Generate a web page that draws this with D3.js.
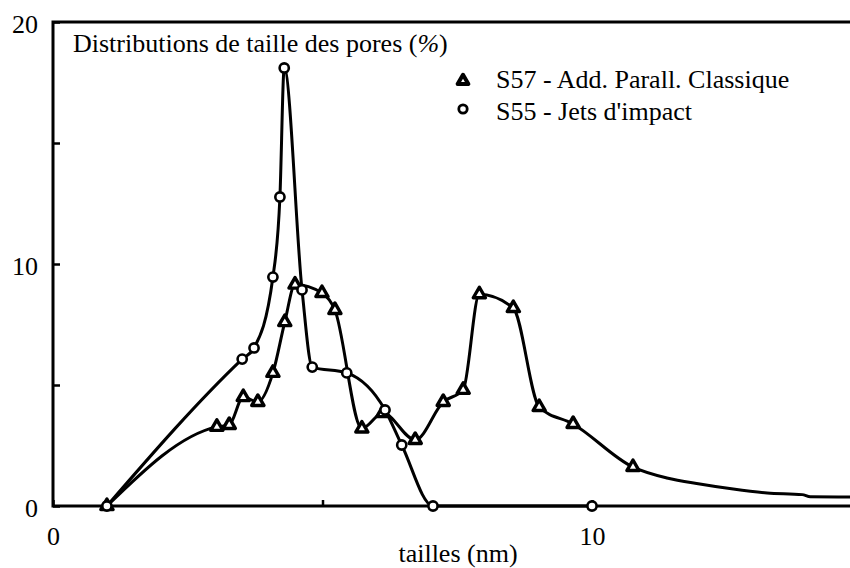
<!DOCTYPE html>
<html>
<head>
<meta charset="utf-8">
<script src="https://cdn.jsdelivr.net/npm/d3@7"></script>
<style>
  html, body { margin: 0; padding: 0; background: #fff; }
  svg { display: block; }
  text { font-family: "Liberation Serif", "Times New Roman", serif; fill: #000; }
</style>
</head>
<body>
<svg id="chart" width="850" height="568"></svg>
<script>
// Pore size distributions (%), sizes in nm
const s57Size = [1.0, 3.04, 3.27, 3.53, 3.80, 4.08, 4.30, 4.49, 4.99, 5.23, 5.73, 6.12, 6.72, 7.24, 7.61, 7.91, 8.54, 9.02, 9.65, 10.76];
const s57Pct  = [0, 3.27, 3.35, 4.5, 4.3, 5.5, 7.6, 9.15, 8.8, 8.1, 3.2, 3.84, 2.73, 4.3, 4.8, 8.75, 8.18, 4.09, 3.39, 1.61];
// S57 fitted tail beyond the last measured point (line only, no markers)
const s57TailSize = [11.39, 12.0, 12.62, 13.25, 13.9, 14.05, 14.9];
const s57TailPct  = [1.16, 0.91, 0.70, 0.54, 0.47, 0.38, 0.37];

const s55Size = [1.0, 3.51, 3.73, 4.08, 4.21, 4.29, 4.62, 4.81, 5.45, 6.16, 6.47, 7.05, 10.0];
const s55Pct  = [0, 6.07, 6.53, 9.46, 12.77, 18.1, 8.93, 5.74, 5.5, 3.97, 2.52, 0, 0];

const yTicks = [0, 5, 10, 15, 20];
const yTickLabels = ["0", "", "10", "", "20"];
const xTicks = [0, 5, 10];
const xTickLabels = ["0", "", "10"];

const titleText = "Distributions de taille des pores (";
const titlePct = "%";
const legendLabels = ["S57 - Add. Parall. Classique", "S55 - Jets d'impact"];
const xAxisTitle = "tailles (nm)";

const svg = d3.select("#chart");
const x = d3.scaleLinear().domain([0, 10]).range([53, 592]);
const y = d3.scaleLinear().domain([0, 20]).range([506, 22]);
const FONT = 26;

// Frame: left, top and bottom lines
svg.append("path")
  .attr("d", d3.line()([[850, y(20)], [x(0), y(20)], [x(0), y(0)], [850, y(0)]]))
  .attr("fill", "none").attr("stroke", "#000").attr("stroke-width", 3);

// Y axis (ticks pointing inward)
const yAxis = svg.append("g").attr("transform", `translate(${x(0)},0)`)
  .call(d3.axisLeft(y).tickValues(yTicks).tickSize(-7).tickPadding(15)
    .tickFormat((d, i) => yTickLabels[i]));
yAxis.select(".domain").remove();
yAxis.selectAll("line").attr("stroke", "#000").attr("stroke-width", 2.5);
yAxis.selectAll("text").attr("font-size", FONT).attr("dy", "0.42em")
  .style("font-family", "'Liberation Serif', serif").attr("fill", "#000");

// X axis (ticks pointing inward)
const xAxis = svg.append("g").attr("transform", `translate(0,${y(0)})`)
  .call(d3.axisBottom(x).tickValues(xTicks).tickSize(-6).tickPadding(21)
    .tickFormat((d, i) => xTickLabels[i]));
xAxis.select(".domain").remove();
xAxis.selectAll("line").attr("stroke", "#000").attr("stroke-width", 2.5);
xAxis.selectAll("text").attr("font-size", FONT)
  .style("font-family", "'Liberation Serif', serif").attr("fill", "#000");

svg.append("text").attr("x", 458).attr("y", 562).attr("text-anchor", "middle")
  .attr("font-size", FONT).text(xAxisTitle);

// Title inside the plot
const t = svg.append("text").attr("x", 73).attr("y", 52).attr("font-size", FONT);
t.append("tspan").text(titleText);
t.append("tspan").attr("font-style", "italic").text(titlePct);
t.append("tspan").text(")");

// Curves
const line = d3.line().x(d => x(d[0])).y(d => y(d[1])).curve(d3.curveMonotoneX);
const s57Pts = s57Size.map((v, i) => [v, s57Pct[i]]);
const s57Tail = s57TailSize.map((v, i) => [v, s57TailPct[i]]);
const s55Pts = s55Size.map((v, i) => [v, s55Pct[i]]);

svg.append("path").attr("d", line(s57Pts.concat(s57Tail)))
  .attr("fill", "none").attr("stroke", "#000").attr("stroke-width", 3)
  .attr("stroke-linejoin", "round");
svg.append("path").attr("d", line(s55Pts))
  .attr("fill", "none").attr("stroke", "#000").attr("stroke-width", 3)
  .attr("stroke-linejoin", "round");

// Markers
const tri = d3.symbol().type(d3.symbolTriangle).size(64);
svg.append("g").selectAll("path").data(s57Pts).join("path")
  .attr("d", tri).attr("transform", d => `translate(${x(d[0])},${y(d[1])})`)
  .attr("fill", "#fff").attr("stroke", "#000").attr("stroke-width", 3.4)
  .attr("stroke-linejoin", "round");
svg.append("g").selectAll("circle").data(s55Pts).join("circle")
  .attr("cx", d => x(d[0])).attr("cy", d => y(d[1])).attr("r", 4.6)
  .attr("fill", "#fff").attr("stroke", "#000").attr("stroke-width", 2.6);

// Legend
const lg = svg.append("g");
lg.append("path").attr("d", d3.symbol().type(d3.symbolTriangle).size(50))
  .attr("transform", "translate(463,81)")
  .attr("fill", "#fff").attr("stroke", "#000").attr("stroke-width", 4)
  .attr("stroke-linejoin", "round");
lg.append("circle").attr("cx", 463).attr("cy", 109).attr("r", 4.2)
  .attr("fill", "#fff").attr("stroke", "#000").attr("stroke-width", 2.8);
lg.append("text").attr("x", 496).attr("y", 88).attr("font-size", FONT).text(legendLabels[0]);
lg.append("text").attr("x", 496).attr("y", 120).attr("font-size", FONT).text(legendLabels[1]);
</script>
</body>
</html>
